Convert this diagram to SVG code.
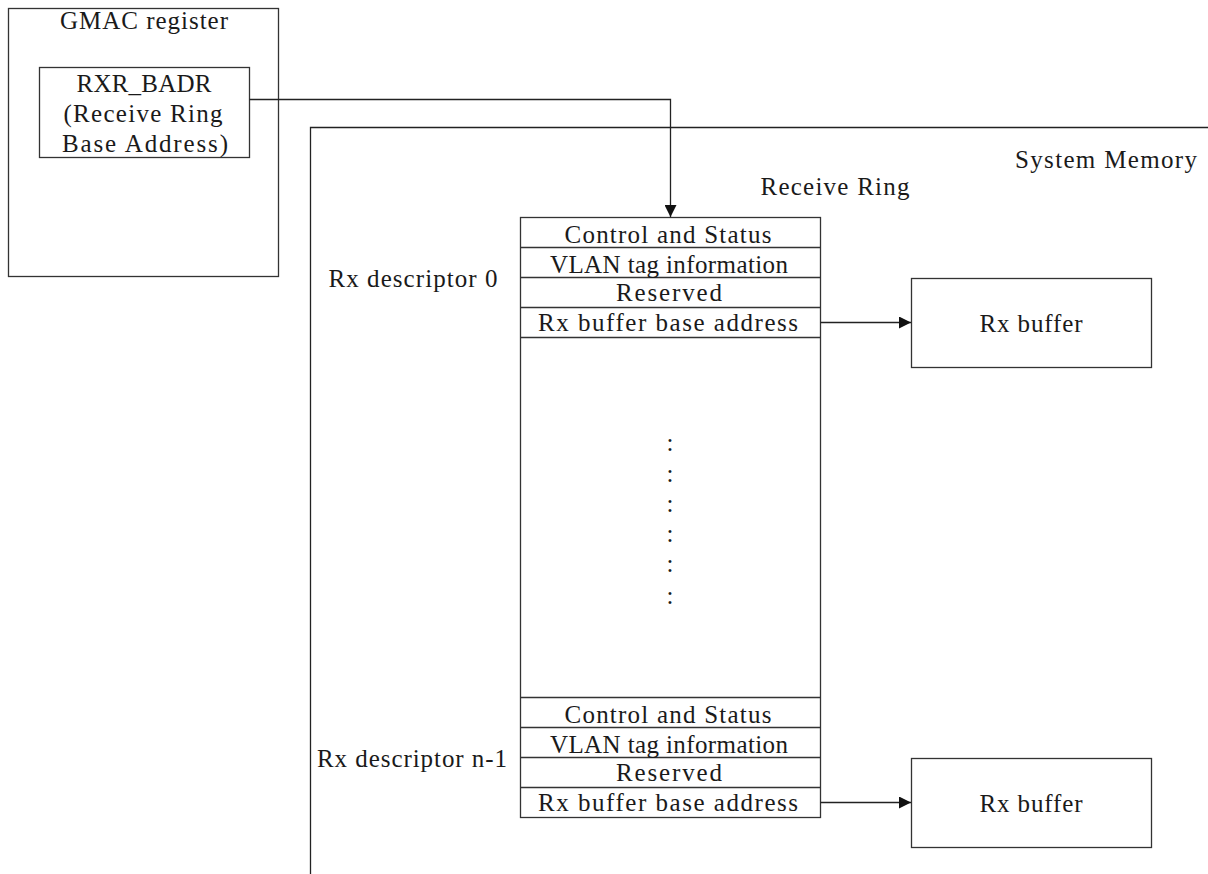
<svg xmlns="http://www.w3.org/2000/svg" width="1208" height="874" viewBox="0 0 1208 874">
<style>
text{font-family:"Liberation Serif","Times New Roman",serif;font-size:25px;fill:#1a1a1a;text-anchor:middle}
.b{fill:#fff;stroke:#333;stroke-width:1.3}
.l{fill:none;stroke:#222;stroke-width:1.3}
.r{fill:none;stroke:#333;stroke-width:1.3}
</style>
<defs>
<marker id="ah" viewBox="0 0 12 12" refX="12" refY="6" markerWidth="12" markerHeight="12" markerUnits="userSpaceOnUse" orient="auto">
<path d="M0,0 L12,6 L0,12 z" fill="#111"/>
</marker>
</defs>
<g id="system-memory">
<path class="l" d="M310.5,874 V127.5 H1208"/>
<text x="1106" y="168" textLength="182" lengthAdjust="spacing">System Memory</text>
</g>
<g id="gmac-register">
<rect class="b" x="8.5" y="8.5" width="270" height="268"/>
<text x="144" y="29" textLength="168" lengthAdjust="spacing">GMAC register</text>
</g>
<g id="rxr-badr">
<rect class="b" x="39.5" y="67.5" width="210" height="90"/>
<text x="144" y="92" textLength="135" lengthAdjust="spacing">RXR_BADR</text>
<text x="143" y="122" textLength="159" lengthAdjust="spacing">(Receive Ring</text>
<text x="145" y="152" textLength="166" lengthAdjust="spacing">Base Address)</text>
</g>
<g id="receive-ring">
<text x="835" y="195" textLength="149" lengthAdjust="spacing">Receive Ring</text>
<rect class="r" x="520.5" y="217.5" width="300" height="600"/>
<path class="r" d="M520.5,247.5 H820.5 M520.5,277.5 H820.5 M520.5,307.5 H820.5 M520.5,337.5 H820.5 M520.5,697.5 H820.5 M520.5,727.5 H820.5 M520.5,757.5 H820.5 M520.5,787.5 H820.5"/>
<text x="668" y="243" textLength="207" lengthAdjust="spacing">Control and Status</text>
<text x="669" y="273" textLength="238" lengthAdjust="spacing">VLAN tag information</text>
<text x="669" y="301" textLength="106" lengthAdjust="spacing">Reserved</text>
<text x="668" y="331" textLength="260" lengthAdjust="spacing">Rx buffer base address</text>
<text x="670" y="451">:</text>
<text x="670" y="482">:</text>
<text x="670" y="512">:</text>
<text x="670" y="542">:</text>
<text x="670" y="572">:</text>
<text x="670" y="604">:</text>
<text x="668" y="723" textLength="207" lengthAdjust="spacing">Control and Status</text>
<text x="669" y="753" textLength="238" lengthAdjust="spacing">VLAN tag information</text>
<text x="669" y="781" textLength="106" lengthAdjust="spacing">Reserved</text>
<text x="668" y="811" textLength="260" lengthAdjust="spacing">Rx buffer base address</text>
</g>
<g id="rx-descriptor-0">
<text x="413" y="287" textLength="169" lengthAdjust="spacing">Rx descriptor 0</text>
</g>
<g id="rx-descriptor-n-1">
<text x="412" y="767" textLength="190" lengthAdjust="spacing">Rx descriptor n-1</text>
</g>
<g id="rx-buffer-0">
<rect class="b" x="911.5" y="278.5" width="240" height="89"/>
<text x="1031" y="332" textLength="103" lengthAdjust="spacing">Rx buffer</text>
</g>
<g id="rx-buffer-n-1">
<rect class="b" x="911.5" y="758.5" width="240" height="89"/>
<text x="1031" y="812" textLength="103" lengthAdjust="spacing">Rx buffer</text>
</g>
<g id="connectors">
<path class="l" d="M249.5,99.5 H670.5 V217" marker-end="url(#ah)"/>
<path class="l" d="M820.5,322.5 H911" marker-end="url(#ah)"/>
<path class="l" d="M820.5,802.5 H911" marker-end="url(#ah)"/>
</g>
</svg>
